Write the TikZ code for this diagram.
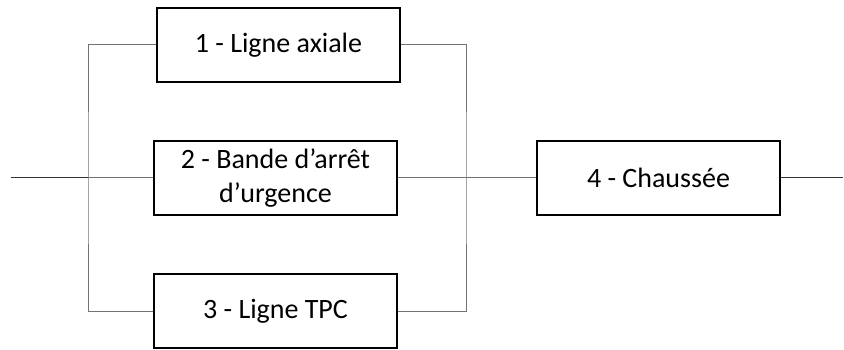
\documentclass[tikz,border=0pt]{standalone}
\usepackage{fontspec}
\setmainfont{Carlito}
\tikzset{
  blockbox/.style={draw=black, line width=1.2pt, minimum width=243pt, minimum height=74pt,
    inner sep=0pt, align=center, font=\fontsize{28}{34}\selectfont},
  wire/.style={draw=black!55, line width=1pt}
}
\begin{document}
\begin{tikzpicture}[x=1pt,y=-1pt]
			\useasboundingbox (0,0) rectangle (844,350);
			% Parallel blocks.
			\node[blockbox] (B1) at (278.5,45) {1 - Ligne axiale};
			\node[blockbox] (B2) at (275.5,178) {2 - Bande d’arrêt\\d’urgence};
			\node[blockbox] (B3) at (275.5,311) {3 - Ligne TPC};
			% Series block.
			\node[blockbox] (B4) at (658.5,178) {4 - Chaussée};
			\coordinate (in) at (11,178);
			\coordinate (out) at (843,178);
			\coordinate (lb) at (88,178);
			\coordinate (rb) at (466,178);
			\draw[wire] (B1.west) -| (lb) |- (B3.west);
			\draw[wire] (B1.east) -| (rb) |- (B3.east);
			\draw[wire] (lb) -- (B2.west);
			\draw[wire, draw=black!80] (in) -- (lb);
			\draw[wire] (B2.east) -- (B4.west);
			\draw[wire, draw=black!80] (B4.east) -- (out);
		\end{tikzpicture}
\end{document}
